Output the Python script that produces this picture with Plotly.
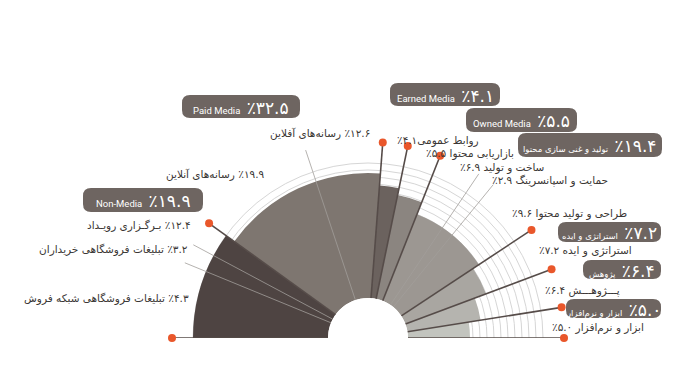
import plotly.graph_objects as go

# ---------------- data ----------------
group_names = ["Non-Media", "Paid Media", "Earned Media", "Owned Media",
               "تولید و غنی سازی محتوا", "استراتژی و ایده", "پژوهش", "ابزار و نرم‌افزار"]
group_values = [19.9, 32.5, 4.1, 5.5, 19.4, 7.2, 6.4, 5.0]

sub_names = [
    ["بـرگـزاری رویـداد", "تبلیغات فروشگاهی خریداران", "تبلیغات فروشگاهی شبکه فروش"],
    ["رسانه‌های آنلاین", "رسانه‌های آفلاین"],
    ["روابط عمومی"],
    ["بازاریابی محتوا"],
    ["ساخت و تولید", "حمایت و اسپانسرینگ", "طراحی و تولید محتوا"],
    ["استراتژی و ایده"],
    ["پـــژوهـــش"],
    ["ابزار و نرم‌افزار"],
]
sub_values = [
    [12.4, 3.2, 4.3],
    [19.9, 12.6],
    [4.1],
    [5.5],
    [6.9, 2.9, 9.6],
    [7.2],
    [6.4],
    [5.0],
]

# ---------------- styles / layout ----------------
wedge_radius = [175, 165, 153, 146, 133, 126, 114, 102]   # decorative radii (px)
wedge_colors = ["#4e4442", "#7e7670", "#6b625e", "#8b8580",
                "#9c9792", "#a9a6a1", "#b5b4af", "#c2c4be"]
grid_arcs = [105, 112, 119, 126, 133, 140, 147, 154, 161, 168, 175]
HOLE_R, MAX_R, DOT_R, SUB_R = 40, 210, 196, 198
OFF = 8                      # page body margin
W, H = 700 - OFF, 376 - OFF
CX, CY = 368 - OFF, 338 - OFF
DEG_PER_PCT = 180.0 / 100.0

FA = str.maketrans("0123456789", "۰۱۲۳۴۵۶۷۸۹")
def fa(v):
    return "٪" + f"{v:.1f}".translate(FA)

LRM = "\u200e"
PFONT = "DejaVu Sans"

# ---------------- geometry from data ----------------
theta_mid, theta_width, bounds = [], [], [180.0]
sub_bounds = []
start = 180.0
for v, subs in zip(group_values, sub_values):
    span = v * DEG_PER_PCT
    theta_mid.append(start - span / 2)
    theta_width.append(span)
    s = start
    for sv in subs[:-1]:
        s -= sv * DEG_PER_PCT
        sub_bounds.append(s)
    start -= span
    bounds.append(start)

fig = go.Figure()

fig.add_trace(go.Barpolar(
    r=[r - HOLE_R for r in wedge_radius], base=[HOLE_R] * len(wedge_radius),
    theta=theta_mid, width=theta_width,
    marker=dict(color=wedge_colors, line=dict(width=0)),
    hoverinfo="skip", subplot="polar"))

# thin sub-division leader lines
rr, tt = [], []
for b in sub_bounds:
    rr += [HOLE_R, SUB_R, None]
    tt += [b, b, None]
fig.add_trace(go.Scatterpolar(r=rr, theta=tt, mode="lines",
                              line=dict(color="#a29e9a", width=0.8),
                              hoverinfo="skip", cliponaxis=False, subplot="polar"))

# main boundary lines with dots
rr, tt = [], []
for b in bounds:
    rr += [HOLE_R, DOT_R, None]
    tt += [b, b, None]
fig.add_trace(go.Scatterpolar(r=rr, theta=tt, mode="lines",
                              line=dict(color="#564c49", width=1.6),
                              hoverinfo="skip", cliponaxis=False, subplot="polar"))
fig.add_trace(go.Scatterpolar(r=[DOT_R] * len(bounds), theta=bounds, mode="markers",
                              marker=dict(color="#e9572b", size=8),
                              hoverinfo="skip", cliponaxis=False, subplot="polar"))

# invisible pixel-mapped cartesian layer for labels and boxes
fig.add_trace(go.Scatter(x=[0], y=[0], mode="markers", marker=dict(opacity=0),
                         hoverinfo="skip"))

# ---------------- labels (page pixel positions) ----------------
label_pos = [  # per sub item: (x, y, anchor)  anchor 'right' -> text then number
    [(193, 225, "right"), (190, 249, "right"), (191, 298, "right")],
    [(267, 174, "right"), (372, 133, "right")],
    [(395, 140, "left")],
    [(424, 153, "left")],
    [(458, 167, "left"), (490, 180, "left"), (510, 213, "left")],
    [(537, 250, "left")],
    [(543, 290, "left")],
    [(550, 327, "left")],
]
annotations = []
for names, vals, poss in zip(sub_names, sub_values, label_pos):
    for n, v, (x, y, anc) in zip(names, vals, poss):
        if anc == "right":
            txt = n + " " + LRM + fa(v)
        else:
            sep = "" if n == "روابط عمومی" else " "
            txt = LRM + fa(v) + sep + n
        annotations.append(dict(x=x - OFF, y=y - OFF, xref="x", yref="y", text=txt,
                                showarrow=False, xanchor=anc, yanchor="middle",
                                font=dict(family=PFONT, size=10.5, color="#3b3735")))

# boxes: (x0, y0, x1, y1) page pixels for each group
box_pos = [(83, 188, 203, 212), (182, 95, 300, 118), (390, 83, 500, 106),
           (466, 108, 577, 132), (518, 133, 662, 157), (558, 222, 661, 242),
           (583, 260, 661, 279), (566, 299, 661, 318)]
BOX_COLOR = "#6e6561"

def rrect(x0, y0, x1, y1, r):
    return (f"M{x0+r},{y0} L{x1-r},{y0} Q{x1},{y0} {x1},{y0+r} L{x1},{y1-r} "
            f"Q{x1},{y1} {x1-r},{y1} L{x0+r},{y1} Q{x0},{y1} {x0},{y1-r} "
            f"L{x0},{y0+r} Q{x0},{y0} {x0+r},{y0} Z")

shapes = []
for name, v, (x0, y0, x1, y1) in zip(group_names, group_values, box_pos):
    x0, y0, x1, y1 = x0 - OFF, y0 - OFF, x1 - OFF, y1 - OFF
    shapes.append(dict(type="path", xref="x", yref="y", path=rrect(x0, y0, x1, y1, 8),
                       fillcolor=BOX_COLOR, line=dict(width=0), layer="above"))
    big = f"<span style='font-size:17px'>{LRM}{fa(v)}</span>"
    if name.isascii():
        small = f"<span style='font-family:Roboto;font-size:9.5px'>{name}</span>"
    else:
        small = f"<span style='font-size:8.5px'>{name}</span>"
    annotations.append(dict(x=(x0 + x1) / 2, y=(y0 + y1) / 2 + 1, xref="x", yref="y",
                            text=small + " " + LRM + " " + big, showarrow=False,
                            xanchor="center", yanchor="middle",
                            font=dict(family=PFONT, color="#ffffff", size=10)))

fig.update_layout(
    width=W, height=H, margin=dict(l=0, r=0, t=0, b=0),
    paper_bgcolor="white", plot_bgcolor="rgba(0,0,0,0)", showlegend=False,
    xaxis=dict(range=[0, W], visible=False, domain=[0, 1], fixedrange=True),
    yaxis=dict(range=[H, 0], visible=False, domain=[0, 1], fixedrange=True),
    polar=dict(
        domain=dict(x=[(CX - MAX_R) / W, (CX + MAX_R) / W],
                    y=[(H - CY) / H, (H - CY + MAX_R) / H]),
        sector=[0, 180], hole=HOLE_R / MAX_R, bgcolor="rgba(0,0,0,0)",
        radialaxis=dict(range=[HOLE_R, MAX_R], tickvals=grid_arcs, showticklabels=False,
                        ticks="", showline=False, gridcolor="#d6d6d6", gridwidth=1),
        angularaxis=dict(showgrid=False, showline=False, showticklabels=False, ticks="",
                         rotation=0, direction="counterclockwise"),
        bargap=0,
    ),
    shapes=shapes, annotations=annotations,
)

fig.write_html("out.html")
